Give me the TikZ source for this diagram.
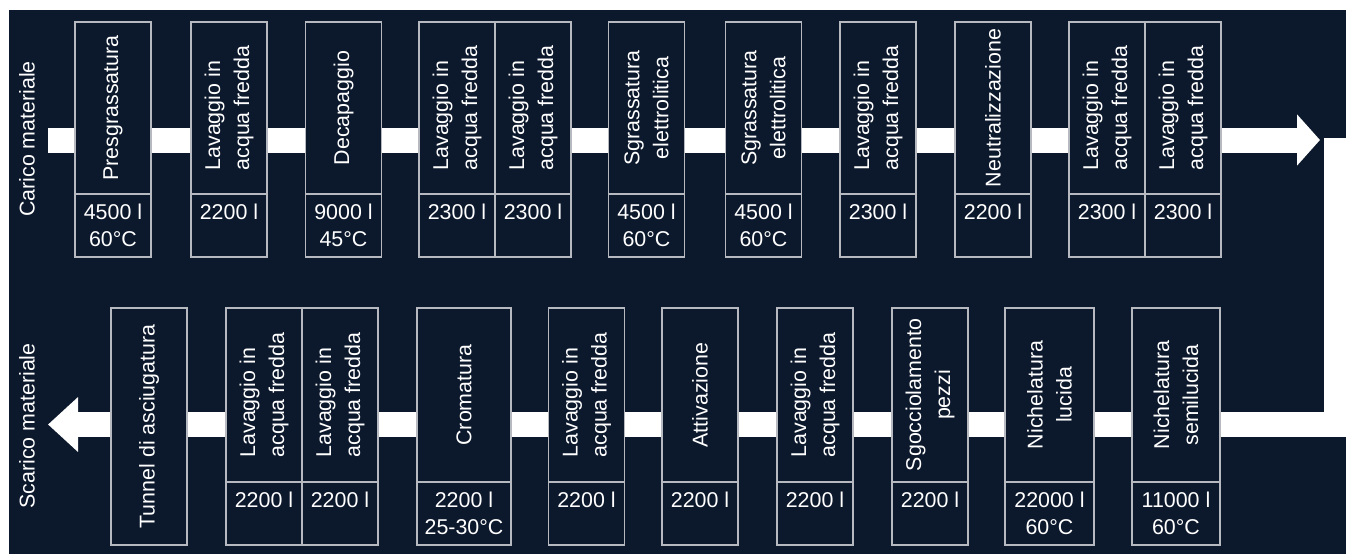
\documentclass[tikz,border=0pt]{standalone}
\usepackage{fontspec}
\setmainfont{Liberation Sans}
\usetikzlibrary{arrows.meta}
\definecolor{navy}{RGB}{12,24,44}
\definecolor{edge}{RGB}{182,186,192}
\begin{document}
\begin{tikzpicture}[x=0.5pt, y=-0.5pt, line join=miter,
    cell/.style={draw=edge, fill=navy, text=white, line width=0.65pt, inner sep=1pt},
    stage/.style={cell, rotate=90, minimum width=86pt, minimum height=38pt, align=center, font=\fontsize{10.7}{14.5}\selectfont},
    lstage/.style={stage, minimum width=87pt},
    wash/.style={align=left},
    tank/.style={cell, minimum width=38pt, minimum height=31.5pt, align=center, font=\fontsize{10.7}{13.5}\selectfont},
    sidelabel/.style={rotate=90, text=white, font=\fontsize{10.7}{13}\selectfont},
    band/.style={white, line width=12.5pt}]
  \useasboundingbox (0,0) rectangle (1346,554);
  \clip (0,0) rectangle (1346,554);
  \fill[navy] (9,10) rectangle (1346,554);
  % flow of the parts
  \coordinate (inA) at (48,140);
  \coordinate (outA) at (1320,140);
  \coordinate (inB) at (1336.5,138);
  \coordinate (outB) at (48,424.5);
  \draw[band, -{Triangle[width=25pt, length=11.5pt]}] (inA) -- (outA);
  \draw[band, -{Triangle[width=26.5pt, length=15pt]}] (inB) |- (outB);
  \node[sidelabel] (carico) at (27,139) {Carico materiale};
  \node[sidelabel] (scarico) at (27,426) {Scarico materiale};
  % upper line
  \node[stage] (preT) at (113,108) {Presgrassatura};
  \node[tank] (preV) at (113,225.5) {4500 l\\60°C};
  \node[stage, wash] (lavAT) at (229,108) {Lavaggio in\\acqua fredda};
  \node[tank] (lavAV) at (229,225.5) {2200 l\\\mbox{}};
  \node[stage] (decT) at (343.5,108) {Decapaggio};
  \node[tank] (decV) at (343.5,225.5) {9000 l\\45°C};
  \node[stage, wash] (lavBT) at (457,108) {Lavaggio in\\acqua fredda};
  \node[tank] (lavBV) at (457,225.5) {2300 l\\\mbox{}};
  \node[stage, wash] (lavCT) at (533,108) {Lavaggio in\\acqua fredda};
  \node[tank] (lavCV) at (533,225.5) {2300 l\\\mbox{}};
  \node[stage] (sgrAT) at (646.5,108) {Sgrassatura\\elettrolitica};
  \node[tank] (sgrAV) at (646.5,225.5) {4500 l\\60°C};
  \node[stage] (sgrBT) at (763.5,108) {Sgrassatura\\elettrolitica};
  \node[tank] (sgrBV) at (763.5,225.5) {4500 l\\60°C};
  \node[stage, wash] (lavDT) at (878,108) {Lavaggio in\\acqua fredda};
  \node[tank] (lavDV) at (878,225.5) {2300 l\\\mbox{}};
  \node[stage] (neuT) at (993,108) {Neutralizzazione};
  \node[tank] (neuV) at (993,225.5) {2200 l\\\mbox{}};
  \node[stage, wash] (lavET) at (1107,108) {Lavaggio in\\acqua fredda};
  \node[tank] (lavEV) at (1107,225.5) {2300 l\\\mbox{}};
  \node[stage, wash] (lavFT) at (1183,108) {Lavaggio in\\acqua fredda};
  \node[tank] (lavFV) at (1183,225.5) {2300 l\\\mbox{}};
  % lower line
  \node[stage, minimum width=118.5pt] (tunT) at (149,426.5) {Tunnel di asciugatura};
  \node[lstage, wash] (lavGT) at (264,395) {Lavaggio in\\acqua fredda};
  \node[tank] (lavGV) at (264,513.5) {2200 l\\\mbox{}};
  \node[lstage, wash] (lavHT) at (340,395) {Lavaggio in\\acqua fredda};
  \node[tank] (lavHV) at (340,513.5) {2200 l\\\mbox{}};
  \node[lstage, minimum height=47pt] (croT) at (464,395) {Cromatura};
  \node[tank, minimum width=47pt] (croV) at (464,513.5) {2200 l\\25-30°C};
  \node[lstage, wash] (lavIT) at (586.5,395) {Lavaggio in\\acqua fredda};
  \node[tank] (lavIV) at (586.5,513.5) {2200 l\\\mbox{}};
  \node[lstage] (attT) at (700,395) {Attivazione};
  \node[tank] (attV) at (700,513.5) {2200 l\\\mbox{}};
  \node[lstage, wash] (lavJT) at (815,395) {Lavaggio in\\acqua fredda};
  \node[tank] (lavJV) at (815,513.5) {2200 l\\\mbox{}};
  \node[lstage] (sgoT) at (930,395) {Sgocciolamento\\pezzi};
  \node[tank] (sgoV) at (930,513.5) {2200 l\\\mbox{}};
  \node[lstage, minimum height=44.5pt] (nilT) at (1049.5,395) {Nichelatura\\lucida};
  \node[tank, minimum width=44.5pt] (nilV) at (1049.5,513.5) {22000 l\\60°C};
  \node[lstage, minimum height=44pt] (nisT) at (1176,395) {Nichelatura\\semilucida};
  \node[tank, minimum width=44pt] (nisV) at (1176,513.5) {11000 l\\60°C};
\end{tikzpicture}
\end{document}
